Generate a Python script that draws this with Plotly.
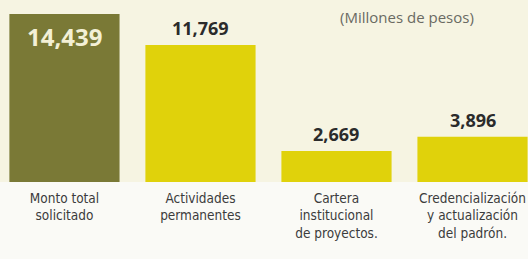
import plotly.graph_objects as go

categories = ["Monto total<br>solicitado", "Actividades<br>permanentes",
              "Cartera<br>institucional<br>de proyectos.", "Credencialización<br>y actualización<br>del padrón."]
values = [14439, 11769, 2669, 3896]
value_labels = ["14,439", "11,769", "2,669", "3,896"]
bar_colors = ["#7a7936", "#e0d20b", "#e0d20b", "#e0d20b"]
units = "(Millones de pesos)"

x = list(range(len(values)))

fig = go.Figure()
fig.add_trace(go.Bar(x=x, y=values, width=0.81, marker=dict(color=bar_colors, line=dict(width=0)),
                     hoverinfo="skip"))

for i, (v, lab) in enumerate(zip(values, value_labels)):
    if i == 0:
        fig.add_annotation(x=i, y=v, text="<b>%s</b>" % lab, showarrow=False, yanchor="top", yshift=-4,
                           font=dict(family="Open Sans", size=24, color="#f3f0d6"))
    else:
        fig.add_annotation(x=i, y=v, text="<b>%s</b>" % lab, showarrow=False, yanchor="bottom", yshift=3,
                           font=dict(family="Open Sans", size=18, color="#2b2b2b"))

fig.add_annotation(xref="paper", yref="paper", x=0.771, y=0.907, xanchor="center", yanchor="middle",
                   text=units, showarrow=False,
                   font=dict(family="Open Sans", size=15, color="#6a6a62"))

fig.update_layout(
    width=528, height=259,
    margin=dict(l=0, r=0, t=0, b=77, pad=0),
    paper_bgcolor="#fafaf6", plot_bgcolor="#f6f4e2",
    showlegend=False,
    xaxis=dict(range=[-0.474, 3.408], tickmode="array", tickvals=x, ticktext=categories,
               showgrid=False, zeroline=False, showline=False, ticks="", automargin=False,
               ticklabelstandoff=6,
               tickfont=dict(family="DejaVu Sans Condensed, Liberation Sans Narrow, sans-serif", size=13.5, color="#3c3c3c")),
    yaxis=dict(range=[0, 15642], visible=False, showgrid=False, zeroline=False, automargin=False),
)

fig.write_html("out.html", config={"displayModeBar": False},
               post_script="document.body.style.margin='0';document.body.style.overflow='hidden';")
